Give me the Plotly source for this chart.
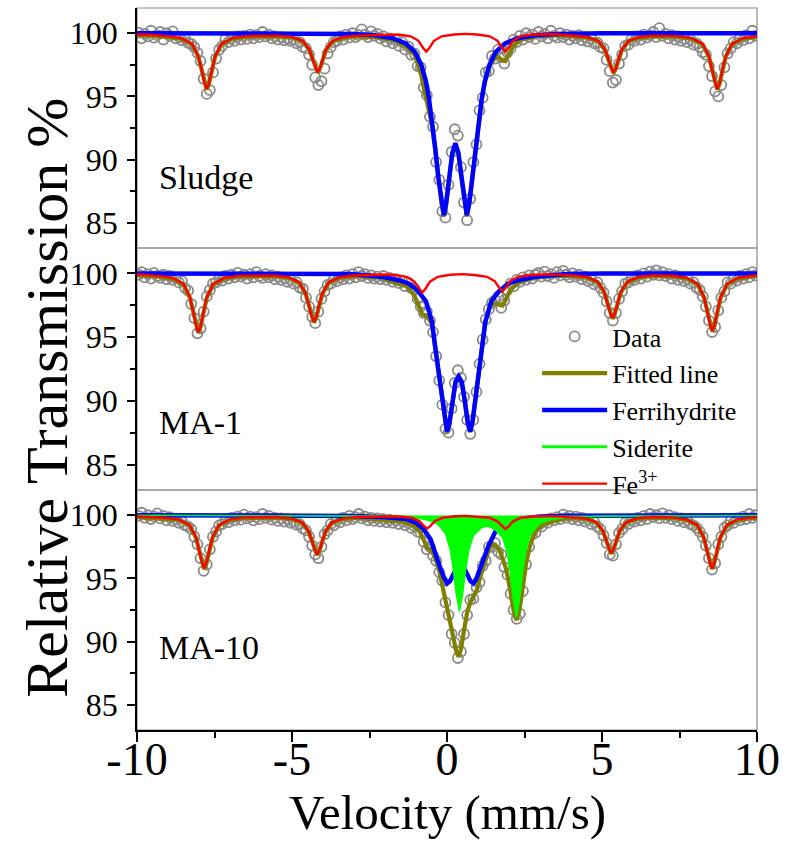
import numpy as np
import plotly.graph_objects as go

SERIF = "Liberation Serif, Times New Roman, serif"

# ---------------- data (velocity channels, mm/s) ----------------
velocity = np.round(np.linspace(-9.95, 9.95, 200), 2)

sludge_data = [
    100.05, 99.6, 99.95, 99.75, 100.2, 99.65, 99.85, 100.1, 99.5, 100.0,
    99.8, 100.15, 99.6, 99.7, 99.45, 99.6, 99.25, 99.15, 98.9, 98.45,
    97.8, 96.4, 95.2, 95.5, 96.9, 98.0, 98.7, 99.0, 99.5, 99.3,
    99.6, 99.4, 99.75, 99.5, 99.8, 99.55, 99.9, 99.6, 99.85, 99.7,
    100.1, 99.75, 99.9, 99.6, 99.75, 99.5, 99.7, 99.45, 99.6, 99.4,
    99.5, 99.2, 99.3, 98.9, 98.8, 98.3, 97.5, 96.5, 95.9, 96.2,
    97.2, 98.4, 98.9, 99.3, 99.4, 99.75, 99.5, 99.9, 99.65, 100.0,
    99.7, 99.85, 100.3, 99.9, 99.7, 100.15, 99.8, 99.95, 99.6, 99.75,
    99.35, 99.6, 99.2, 99.45, 99.0, 99.3, 98.7, 98.95, 98.3, 98.4,
    97.4, 97.3, 95.7, 95.1, 93.4, 92.6, 89.8, 88.4, 85.9, 85.4,
    88.0, 90.6, 92.4, 91.9, 89.4, 86.6, 85.2, 86.9, 89.8, 91.2,
    93.9, 94.9, 96.9, 97.0, 98.2, 98.0, 98.7, 98.1, 97.6, 98.5,
    98.8, 99.5, 99.3, 99.8, 99.5, 100.0, 99.7, 99.9, 99.55, 100.1,
    99.75, 99.95, 99.6, 100.2, 99.8, 99.65, 100.0, 99.7, 99.9, 99.5,
    99.8, 99.6, 99.85, 99.45, 99.7, 99.35, 99.55, 99.2, 99.25, 98.9,
    98.8, 97.9, 97.0, 96.1, 96.3, 97.6, 98.3, 99.0, 99.1, 99.5,
    99.4, 99.75, 99.5, 99.9, 99.65, 99.85, 100.1, 99.7, 100.4, 99.8,
    99.95, 99.6, 99.85, 99.5, 99.75, 99.4, 99.55, 99.3, 99.5, 99.1,
    99.2, 98.9, 98.5, 98.3, 97.4, 96.6, 95.4, 95.0, 95.9, 97.3,
    98.4, 98.8, 99.3, 99.2, 99.6, 99.45, 99.85, 99.6, 100.2, 99.8]

ma1_data = [
    99.9, 100.1, 99.7, 99.95, 99.6, 100.05, 99.8, 99.65, 99.9, 99.55,
    99.8, 99.5, 99.65, 99.3, 99.4, 98.85, 98.65, 97.6, 96.5, 95.3,
    95.7, 97.0, 98.2, 98.7, 99.2, 99.3, 99.6, 99.45, 99.8, 99.6,
    99.9, 99.7, 100.05, 99.75, 99.9, 99.6, 99.95, 99.7, 100.1, 99.8,
    99.65, 99.95, 99.7, 99.85, 99.55, 99.75, 99.5, 99.65, 99.35, 99.5,
    99.2, 99.3, 98.9, 98.8, 98.1, 97.4, 96.6, 96.1, 97.0, 98.0,
    98.6, 99.1, 99.2, 99.55, 99.4, 99.7, 99.55, 99.85, 99.6, 99.95,
    99.7, 100.1, 99.8, 99.95, 99.65, 99.85, 99.6, 99.75, 99.55, 99.8,
    99.5, 99.65, 99.35, 99.55, 99.25, 99.4, 99.0, 99.3, 98.85, 98.8,
    98.0, 97.4, 96.9, 97.0, 96.3, 95.4, 93.5, 91.6, 89.7, 87.8,
    87.5, 89.4, 91.4, 92.4, 91.8, 90.3, 88.5, 87.4, 88.5, 90.7,
    92.9, 94.8, 96.4, 97.2, 97.7, 97.9, 98.2, 97.3, 97.9, 98.7,
    99.2, 99.0, 99.5, 99.35, 99.7, 99.5, 99.85, 99.6, 99.9, 100.05,
    99.75, 100.15, 99.8, 99.95, 99.65, 100.1, 99.85, 100.2, 99.9, 99.7,
    100.0, 99.75, 99.9, 99.55, 99.75, 99.4, 99.5, 99.15, 99.3, 98.85,
    98.5, 97.8, 96.9, 96.3, 96.9, 98.0, 98.6, 99.2, 99.3, 99.6,
    99.5, 99.85, 99.6, 100.0, 99.75, 100.15, 99.9, 100.25, 99.85, 100.1,
    99.8, 99.95, 99.6, 99.85, 99.5, 99.7, 99.4, 99.55, 99.2, 99.3,
    98.9, 98.7, 98.2, 97.4, 96.3, 95.4, 95.8, 97.1, 98.1, 98.6,
    99.3, 99.2, 99.6, 99.45, 99.8, 99.6, 99.95, 99.7, 100.1, 99.85]

ma10_data = [
    99.95, 100.2, 99.8, 100.0, 99.7, 99.9, 100.15, 99.75, 99.95, 99.6,
    99.85, 99.55, 99.7, 99.4, 99.5, 99.2, 99.1, 98.9, 98.3, 97.7,
    96.6, 95.6, 96.1, 97.3, 98.3, 98.7, 99.2, 99.3, 99.6, 99.45,
    99.8, 99.6, 99.9, 99.65, 100.05, 99.75, 99.9, 99.6, 99.85, 99.7,
    100.1, 99.8, 99.95, 99.65, 99.8, 99.55, 99.75, 99.5, 99.7, 99.4,
    99.5, 99.25, 99.3, 98.95, 98.8, 98.3, 97.6, 96.9, 96.6, 97.5,
    98.5, 98.8, 99.3, 99.2, 99.6, 99.45, 99.8, 99.6, 99.95, 99.7,
    99.85, 100.1, 99.75, 99.9, 99.6, 99.8, 99.55, 99.75, 99.5, 99.7,
    99.45, 99.65, 99.4, 99.6, 99.3, 99.55, 99.2, 99.4, 99.0, 99.15,
    98.7, 98.6, 97.9, 97.3, 97.5, 96.8, 96.4, 95.5, 94.8, 93.1,
    92.1, 90.6, 89.9, 88.7, 89.2, 90.6, 92.1, 93.3, 93.4, 94.3,
    94.7, 96.0, 96.4, 97.5, 97.5, 97.8, 97.1, 96.9, 95.9, 95.3,
    93.8, 92.5, 91.8, 92.2, 94.0, 96.1, 97.5, 98.5, 98.6, 99.2,
    99.1, 99.5, 99.4, 99.75, 99.6, 99.85, 99.7, 100.05, 99.8, 99.95,
    99.7, 99.9, 99.6, 99.8, 99.5, 99.65, 99.3, 99.45, 99.1, 98.9,
    98.4, 97.8, 96.9, 96.8, 97.7, 98.6, 98.9, 99.4, 99.3, 99.6,
    99.5, 99.8, 99.6, 99.95, 99.7, 100.1, 99.85, 100.0, 99.75, 100.15,
    99.8, 100.0, 99.7, 99.85, 99.55, 99.75, 99.45, 99.6, 99.3, 99.2,
    99.0, 98.7, 98.3, 97.6, 96.6, 95.7, 96.2, 97.7, 98.3, 99.0,
    99.2, 99.55, 99.4, 99.75, 99.6, 99.9, 99.7, 100.1, 99.8, 100.0]

# ---------------- fitted components: Sludge ----------------
sludge_fe3_v = [-10, -9.6, -9.05, -8.58, -8.23, -8.02, -7.92, -7.82, -7.75, -7.68, -7.58, -7.48, -7.27, -6.92, -6.45,
                -5.47, -5.0, -4.65, -4.44, -4.34, -4.24, -4.17, -4.10, -4.0, -3.9, -3.69, -3.34, -2.87, -2.0,
                -1.57, -1.17, -0.92, -0.77, -0.67, -0.57, -0.42, -0.17, 0.23, 0.6, 0.98, 1.38, 1.63, 1.78, 1.88,
                1.98, 2.13, 2.38, 2.78, 3.5, 4.07, 4.54, 4.89, 5.10, 5.20, 5.30, 5.37, 5.44, 5.54, 5.64, 5.85,
                6.2, 6.67, 7.42, 7.89, 8.24, 8.45, 8.55, 8.65, 8.72, 8.79, 8.89, 8.99, 9.2, 9.55, 10]
sludge_fe3_t = [99.9, 99.88, 99.77, 99.62, 99.17, 98.18, 97.19, 96.03, 95.6, 96.03, 97.19, 98.18, 99.17, 99.62, 99.77,
                99.81, 99.71, 99.4, 98.72, 98.04, 97.25, 96.95, 97.25, 98.04, 98.72, 99.4, 99.71, 99.81, 99.9,
                99.9, 99.76, 99.4, 98.84, 98.55, 98.84, 99.4, 99.76, 99.9, 99.95, 99.9, 99.76, 99.4, 98.84, 98.55,
                98.84, 99.4, 99.76, 99.9, 99.92, 99.81, 99.7, 99.39, 98.7, 98.01, 97.2, 96.9, 97.2, 98.01, 98.7, 99.39,
                99.7, 99.81, 99.77, 99.62, 99.17, 98.18, 97.19, 96.03, 95.6, 96.03, 97.19, 98.18, 99.17, 99.62, 99.75]

sludge_ferri_v = [-10, -4.5, -3.03, -2.33, -1.73, -1.33, -1.03, -0.83, -0.68, -0.58, -0.48, -0.38, -0.28, -0.18,
                  -0.1, -0.03, 0.07, 0.17, 0.27, 0.37, 0.47, 0.57, 0.64, 0.72, 0.82, 0.92, 1.02, 1.12, 1.22, 1.37,
                  1.57, 1.87, 2.27, 2.87, 3.57, 5.0, 10]
sludge_ferri_t = [100, 100, 99.95, 99.85, 99.6, 99.2, 98.5, 97.5, 96.2, 94.8, 93.0, 90.9, 88.6, 86.6,
                  85.6, 86.5, 88.6, 90.5, 91.3, 90.5, 88.6, 86.5, 85.6, 86.6, 88.6, 90.9, 93.0, 94.8, 96.2, 97.5,
                  98.5, 99.2, 99.6, 99.85, 99.95, 100, 100]

sludge_fit_v = [-10, -9.6, -9.05, -8.58, -8.23, -8.02, -7.92, -7.82, -7.75, -7.68, -7.58, -7.48, -7.27, -6.92, -6.45,
                -5.47, -5.0, -4.65, -4.44, -4.34, -4.24, -4.17, -4.10, -4.0, -3.9, -3.69, -3.34, -3.03, -2.33,
                -1.73, -1.33, -1.03, -0.92, -0.83, -0.77, -0.67, -0.57, -0.48, -0.38, -0.28, -0.18, -0.1, -0.03,
                0.07, 0.17, 0.27, 0.37, 0.47, 0.57, 0.64, 0.72, 0.82, 0.92, 1.02, 1.12, 1.22, 1.37, 1.57, 1.63,
                1.78, 1.88, 1.98, 2.13, 2.38, 2.87, 3.57, 4.07, 4.54, 4.89, 5.10, 5.20, 5.30, 5.37, 5.44, 5.54,
                5.64, 5.85, 6.2, 6.67, 7.42, 7.89, 8.24, 8.45, 8.55, 8.65, 8.72, 8.79, 8.89, 8.99, 9.2, 9.55, 10]
sludge_fit_t = [99.85, 99.83, 99.72, 99.57, 99.12, 98.13, 97.14, 95.98, 95.55, 95.98, 97.14, 98.13, 99.12, 99.57, 99.72,
                99.76, 99.66, 99.35, 98.67, 97.99, 97.2, 96.9, 97.2, 97.99, 98.67, 99.35, 99.64, 99.75, 99.7,
                99.45, 98.95, 98.25, 97.45, 96.7, 95.9, 94.7, 93.5, 92.7, 90.8, 88.5, 86.5, 85.5, 86.4,
                88.5, 90.4, 91.2, 90.4, 88.5, 86.4, 85.5, 86.5, 88.5, 90.8, 92.9, 94.7, 96.1, 97.35, 98.2, 98.1,
                97.9, 97.8, 98.25, 98.95, 99.5, 99.75, 99.85, 99.76, 99.65, 99.34, 98.65, 97.96, 97.15, 96.85, 97.15, 97.96,
                98.65, 99.34, 99.65, 99.76, 99.72, 99.57, 99.12, 98.13, 97.14, 95.98, 95.55, 95.98, 97.14, 98.13, 99.12, 99.57, 99.7]

# ---------------- fitted components: MA-1 ----------------
ma1_fe3_v = [-10, -9.32, -8.85, -8.5, -8.29, -8.19, -8.09, -8.02, -7.95, -7.85, -7.75, -7.54, -7.19, -6.72,
             -5.59, -5.12, -4.77, -4.56, -4.46, -4.36, -4.29, -4.22, -4.12, -4.02, -3.81, -3.46, -2.99, -2.0,
             -1.7, -1.3, -1.05, -0.9, -0.8, -0.7, -0.55, -0.3, 0.1, 0.5, 0.89, 1.29, 1.54, 1.69, 1.79, 1.89,
             2.04, 2.29, 2.69, 3.3, 4.04, 4.51, 4.86, 5.07, 5.17, 5.27, 5.34, 5.41, 5.51, 5.61, 5.82, 6.17, 6.64,
             7.26, 7.73, 8.08, 8.29, 8.39, 8.49, 8.56, 8.63, 8.73, 8.83, 9.04, 9.39, 9.86, 10]
ma1_fe3_t = [99.92, 99.81, 99.65, 99.18, 98.13, 97.08, 95.85, 95.4, 95.85, 97.08, 98.13, 99.18, 99.65, 99.81,
             99.84, 99.71, 99.31, 98.45, 97.59, 96.57, 96.2, 96.57, 97.59, 98.45, 99.31, 99.71, 99.84, 99.92,
             99.88, 99.74, 99.36, 98.78, 98.5, 98.78, 99.36, 99.74, 99.9, 99.95, 99.88, 99.74, 99.4, 98.86, 98.6, 98.86,
             99.4, 99.74, 99.88, 99.93, 99.85, 99.73, 99.36, 98.57, 97.78, 96.84, 96.5, 96.84, 97.78, 98.57, 99.36, 99.73, 99.85,
             99.82, 99.66, 99.19, 98.17, 97.15, 95.95, 95.5, 95.95, 97.15, 98.17, 99.19, 99.66, 99.82, 99.84]

ma1_ferri_v = [-10, -4.5, -3.125, -2.125, -1.525, -1.225, -0.925, -0.675, -0.485, -0.34, -0.255, -0.18, -0.075,
               0.0, 0.075, 0.175, 0.275, 0.375, 0.475, 0.575, 0.675, 0.75, 0.825, 0.93, 1.005, 1.09, 1.235,
               1.425, 1.675, 1.975, 2.275, 2.875, 3.875, 5.0, 10]
ma1_ferri_t = [100, 100, 99.95, 99.75, 99.45, 99.2, 98.6, 97.8, 96.2, 93.5, 91.9, 90.4, 88.4,
               87.6, 88.2, 90.0, 91.5, 91.9, 91.5, 90.0, 88.2, 87.6, 88.4, 90.4, 91.9, 93.5, 96.2,
               97.8, 98.6, 99.2, 99.45, 99.75, 99.95, 100, 100]

ma1_fit_v = [-10, -9.32, -8.85, -8.5, -8.29, -8.19, -8.09, -8.02, -7.95, -7.85, -7.75, -7.54, -7.19, -6.72,
             -5.59, -5.12, -4.77, -4.56, -4.46, -4.36, -4.29, -4.22, -4.12, -4.02, -3.81, -3.46, -2.99, -2.125,
             -1.7, -1.3, -1.05, -0.9, -0.8, -0.7, -0.55, -0.485, -0.34, -0.255, -0.18, -0.075, 0.0, 0.075, 0.175,
             0.275, 0.375, 0.475, 0.575, 0.675, 0.75, 0.825, 0.93, 1.005, 1.09, 1.235, 1.425, 1.54, 1.69, 1.79,
             1.89, 2.04, 2.29, 2.69, 3.3, 4.04, 4.51, 4.86, 5.07, 5.17, 5.27, 5.34, 5.41, 5.51, 5.61, 5.82, 6.17,
             6.64, 7.26, 7.73, 8.08, 8.29, 8.39, 8.49, 8.56, 8.63, 8.73, 8.83, 9.04, 9.39, 9.86, 10]
ma1_fit_t = [99.87, 99.76, 99.6, 99.13, 98.08, 97.03, 95.8, 95.35, 95.8, 97.03, 98.08, 99.13, 99.6, 99.76,
             99.79, 99.66, 99.26, 98.4, 97.54, 96.52, 96.15, 96.52, 97.54, 98.4, 99.26, 99.66, 99.79, 99.67,
             99.3, 99.0, 98.26, 97.38, 96.8, 96.73, 96.31, 96.0, 93.4, 91.8, 90.3, 88.3, 87.5, 88.15, 89.95,
             91.45, 91.85, 91.45, 89.95, 88.15, 87.55, 88.35, 90.35, 91.85, 93.45, 96.15, 97.7, 97.62, 97.54, 97.48,
             97.94, 98.7, 99.25, 99.6, 99.8, 99.8, 99.68, 99.31, 98.52, 97.73, 96.79, 96.45, 96.79, 97.73, 98.52, 99.31, 99.68,
             99.8, 99.77, 99.61, 99.14, 98.12, 97.1, 95.9, 95.45, 95.9, 97.1, 98.12, 99.14, 99.61, 99.77, 99.79]

# ---------------- fitted components: MA-10 ----------------
ma10_fe3_v = [-10, -9.13, -8.66, -8.31, -8.1, -8.0, -7.9, -7.83, -7.76, -7.66, -7.56, -7.35, -7.0, -6.53,
              -5.49, -5.02, -4.67, -4.46, -4.36, -4.26, -4.19, -4.12, -4.02, -3.92, -3.71, -3.36, -2.89, -2.0,
              -1.54, -1.14, -0.89, -0.74, -0.64, -0.54, -0.39, -0.14, 0.26, 0.6, 0.98, 1.38, 1.63, 1.78, 1.88,
              1.98, 2.13, 2.38, 2.78, 3.4, 4.0, 4.47, 4.82, 5.03, 5.13, 5.23, 5.30, 5.37, 5.47, 5.57, 5.78, 6.13,
              6.6, 7.25, 7.72, 8.07, 8.28, 8.38, 8.48, 8.55, 8.62, 8.72, 8.82, 9.03, 9.38, 9.85, 10]
ma10_fe3_t = [99.9, 99.8, 99.68, 99.24, 98.29, 97.34, 96.22, 95.8, 96.22, 97.34, 98.29, 99.24, 99.68, 99.83,
              99.86, 99.75, 99.43, 98.73, 98.03, 97.2, 96.9, 97.2, 98.03, 98.73, 99.43, 99.75, 99.86, 99.92,
              99.9, 99.8, 99.54, 99.14, 98.95, 99.14, 99.54, 99.8, 99.92, 99.95, 99.9, 99.8, 99.52, 99.1, 98.9,
              99.1, 99.52, 99.8, 99.9, 99.93, 99.86, 99.76, 99.45, 98.77, 98.09, 97.3, 97.0, 97.3, 98.09, 98.77, 99.45, 99.76,
              99.86, 99.83, 99.68, 99.24, 98.29, 97.34, 96.22, 95.8, 96.22, 97.34, 98.29, 99.24, 99.68, 99.83, 99.84]

ma10_ferri_v = [-10, -4, -3.0, -2.0, -1.3, -1.0, -0.75, -0.53, -0.4, -0.3, -0.2, -0.1, 0.0, 0.1, 0.19, 0.3,
                0.425, 0.55, 0.66, 0.75, 0.85, 0.95, 1.07, 1.2, 1.34, 1.6, 1.9, 2.3, 3.0, 4.0, 10]
ma10_ferri_t = [100, 99.98, 99.95, 99.85, 99.7, 99.4, 98.9, 98.1, 97.1, 96.3, 95.7, 95.1, 94.6, 94.8, 95.3, 95.8,
                96.0, 95.8, 95.3, 94.8, 94.6, 95.0, 95.8, 96.8, 97.6, 98.9, 99.4, 99.7, 99.9, 99.97, 100]

ma10_sid_v = [-10, -4, -2.5, -1.5, -1.0, -0.6, -0.3, -0.05, 0.1, 0.2, 0.3, 0.4, 0.5, 0.6, 0.7, 0.85, 1.1, 1.3,
              1.54, 1.79, 1.94, 2.04, 2.14, 2.24, 2.34, 2.44, 2.54, 2.69, 2.94, 3.24, 3.74, 5.0, 10]
ma10_sid_t = [100, 99.98, 99.92, 99.85, 99.8, 99.6, 99.3, 98.55, 97.35, 95.8, 93.75, 92.4, 93.7, 95.7, 97.2, 98.4,
              99.0, 99.15, 98.9, 98.25, 97.1, 95.5, 93.3, 91.95, 93.35, 95.55, 97.15, 98.45, 99.25, 99.6, 99.8, 99.93, 99.98]

ma10_fit_v = [-10, -9.13, -8.66, -8.31, -8.1, -8.0, -7.9, -7.83, -7.76, -7.66, -7.56, -7.35, -7.0, -6.53,
              -5.49, -5.02, -4.67, -4.46, -4.36, -4.26, -4.19, -4.12, -4.02, -3.92, -3.71, -3.36, -2.89, -2.0,
              -1.5, -1.14, -0.89, -0.74, -0.64, -0.54, -0.39, -0.25, -0.1, 0.0, 0.1, 0.2, 0.3, 0.37, 0.45, 0.55,
              0.65, 0.75, 0.85, 0.95, 1.05, 1.15, 1.25, 1.35, 1.46, 1.58, 1.7, 1.8, 1.9, 2.0, 2.08, 2.16, 2.24,
              2.32, 2.4, 2.48, 2.56, 2.68, 2.84, 3.1, 3.6, 4.0, 4.47, 4.82, 5.03, 5.13, 5.23, 5.30, 5.37, 5.47,
              5.57, 5.78, 6.13, 6.6, 7.25, 7.72, 8.07, 8.28, 8.38, 8.48, 8.55, 8.62, 8.72, 8.82, 9.03, 9.38, 9.85, 10]
ma10_fit_t = [99.85, 99.75, 99.63, 99.19, 98.24, 97.29, 96.17, 95.75, 96.17, 97.29, 98.24, 99.19, 99.63, 99.78,
              99.81, 99.7, 99.38, 98.68, 97.98, 97.15, 96.85, 97.15, 97.98, 98.68, 99.38, 99.7, 99.8, 99.65,
              99.5, 99.25, 98.75, 98.0, 97.4, 97.3, 96.7, 95.6, 93.9, 92.5, 91.3, 90.2, 89.2, 88.8, 89.4, 90.9,
              92.3, 93.1, 93.5, 94.0, 94.9, 95.8, 96.6, 97.3, 97.7, 97.6, 97.2, 96.6, 95.8, 94.6, 93.4, 92.3, 91.7,
              92.3, 93.5, 95.0, 96.3, 97.6, 98.7, 99.3, 99.65, 99.78, 99.71, 99.4, 98.72, 98.04, 97.25, 96.95, 97.25, 98.04,
              98.72, 99.4, 99.71, 99.81, 99.78, 99.63, 99.19, 98.24, 97.29, 96.17, 95.75, 96.17, 97.29, 98.24, 99.19, 99.63, 99.78, 99.79]

panel_labels = ["Sludge", "MA-1", "MA-10"]
y_ticks = [85, 90, 95, 100]
x_ticks = [-10, -5, 0, 5, 10]
x_ticktext = ["-10", "-5", "0", "5", "10"]

for a, b in [(sludge_fe3_v, sludge_fe3_t), (sludge_ferri_v, sludge_ferri_t), (sludge_fit_v, sludge_fit_t),
             (ma1_fe3_v, ma1_fe3_t), (ma1_ferri_v, ma1_ferri_t), (ma1_fit_v, ma1_fit_t),
             (ma10_fe3_v, ma10_fe3_t), (ma10_ferri_v, ma10_ferri_t), (ma10_sid_v, ma10_sid_t),
             (ma10_fit_v, ma10_fit_t)]:
    assert len(a) == len(b), (len(a), len(b), a[:3])
for d in (sludge_data, ma1_data, ma10_data):
    assert len(d) == 200, len(d)

# ---------------- styles ----------------
DATA_GRAY = "#8a8a8a"
OLIVE = "#808000"
BLUE = "#0000FF"
GREEN = "#00FF00"
RED = "#FF0000"

panels = [
    dict(data=sludge_data, fit=(sludge_fit_v, sludge_fit_t), ferri=(sludge_ferri_v, sludge_ferri_t),
         sid=None, fe3=(sludge_fe3_v, sludge_fe3_t), xa="x3", ya="y3"),
    dict(data=ma1_data, fit=(ma1_fit_v, ma1_fit_t), ferri=(ma1_ferri_v, ma1_ferri_t),
         sid=None, fe3=(ma1_fe3_v, ma1_fe3_t), xa="x2", ya="y2"),
    dict(data=ma10_data, fit=(ma10_fit_v, ma10_fit_t), ferri=(ma10_ferri_v, ma10_ferri_t),
         sid=(ma10_sid_v, ma10_sid_t), fe3=(ma10_fe3_v, ma10_fe3_t), xa="x", ya="y"),
]

fig = go.Figure()
for k, p in enumerate(panels):
    first = (k == 0)
    fig.add_trace(go.Scatter(x=velocity, y=p["data"], mode="markers", name="Data",
                             marker=dict(symbol="circle-open", size=10, color=DATA_GRAY, line=dict(width=1.8)),
                             showlegend=first, legendrank=1, xaxis=p["xa"], yaxis=p["ya"]))
    fig.add_trace(go.Scatter(x=p["fit"][0], y=p["fit"][1], mode="lines", name="Fitted line",
                             line=dict(color=OLIVE, width=4.2), showlegend=first, legendrank=2,
                             xaxis=p["xa"], yaxis=p["ya"]))
    fig.add_trace(go.Scatter(x=p["ferri"][0], y=p["ferri"][1], mode="lines", name="Ferrihydrite",
                             line=dict(color=BLUE, width=4.5), showlegend=first, legendrank=3,
                             xaxis=p["xa"], yaxis=p["ya"]))
    if p["sid"] is not None:
        fig.add_trace(go.Scatter(x=p["sid"][0], y=p["sid"][1], mode="lines", name="Siderite",
                                 fill="toself", fillcolor=GREEN, line=dict(color=GREEN, width=1.5),
                                 showlegend=False, xaxis=p["xa"], yaxis=p["ya"]))
    fig.add_trace(go.Scatter(x=p["fe3"][0], y=p["fe3"][1], mode="lines", name="Fe<sup>3+</sup>",
                             line=dict(color=RED, width=2.4), showlegend=first, legendrank=5,
                             xaxis=p["xa"], yaxis=p["ya"]))

# legend key for siderite (line style as in the original legend)
fig.add_trace(go.Scatter(x=[None], y=[None], mode="lines", name="Siderite",
                         line=dict(color=GREEN, width=3), showlegend=True, legendrank=4,
                         xaxis="x", yaxis="y"))

# ---------------- layout ----------------
W, H = 788, 843
ML, MR, MT, MB = 137, 25, 8, 113
plot_w = W - ML - MR
plot_h = H - MT - MB
b1 = 240 / plot_h
b2 = 482 / plot_h

yax = dict(range=[83, 102], tickvals=y_ticks, ticks="outside", ticklen=8, tickwidth=1.5, tickcolor="black",
           showline=True, linecolor="black", linewidth=1.5, showgrid=False, zeroline=False,
           minor=dict(tickvals=[87.5, 92.5, 97.5], ticks="outside", ticklen=5, tickwidth=1.5, tickcolor="black"),
           tickfont=dict(family=SERIF, size=32, color="black"), ticklabelstandoff=3)
xhidden = dict(range=[-10, 10], showticklabels=False, ticks="", showline=False, showgrid=False, zeroline=False)

fig.update_layout(
    width=W, height=H,
    margin=dict(l=ML, r=MR, t=MT, b=MB),
    font=dict(family=SERIF, color="black"),
    paper_bgcolor="white", plot_bgcolor="white",
    xaxis=dict(range=[-10, 10], tickvals=x_ticks, ticktext=x_ticktext, ticks="outside", ticklen=10,
               tickwidth=1.5, tickcolor="black", showline=True, linecolor="black", linewidth=1.5,
               showgrid=False, zeroline=False, anchor="y", ticklabelstandoff=-22,
               minor=dict(tickvals=[-7.5, -2.5, 2.5, 7.5], ticks="outside", ticklen=6, tickwidth=1.5,
                          tickcolor="black"),
               tickfont=dict(family=SERIF, size=46, color="black")),
    xaxis2=dict(xhidden, anchor="y2", matches="x"),
    xaxis3=dict(xhidden, anchor="y3", matches="x"),
    yaxis=dict(yax, domain=[0, b1], anchor="x"),
    yaxis2=dict(yax, domain=[b1, b2], anchor="x2"),
    yaxis3=dict(yax, domain=[b2, 1.0], anchor="x3"),
    showlegend=True,
    legend=dict(x=(541 - ML) / plot_w, xanchor="left", y=(730 - 313) / plot_h, yanchor="top",
                font=dict(family=SERIF, size=26, color="black"), bgcolor="rgba(0,0,0,0)",
                itemwidth=65, tracegroupgap=0, traceorder="normal"),
)

# thin grey frames around each panel
for xa, ya in [("x", "y"), ("x2", "y2"), ("x3", "y3")]:
    fig.add_shape(type="rect", xref=f"{xa} domain", yref=f"{ya} domain", x0=0, x1=1, y0=0, y1=1,
                  line=dict(color="#8c8c8c", width=1.2), layer="below")

# panel labels
label_y = [(730 - 177) / plot_h, (730 - 422) / plot_h, (730 - 647) / plot_h]
for txt, yy in zip(panel_labels, label_y):
    fig.add_annotation(text=txt, xref="paper", yref="paper", x=(157 - ML) / plot_w, y=yy,
                       xanchor="left", yanchor="middle", showarrow=False,
                       font=dict(family=SERIF, size=34, color="black"))

# axis titles
fig.add_annotation(text="Relative Transmission %", xref="paper", yref="paper",
                   x=(46 - ML) / plot_w, y=(730 - 398) / plot_h, xanchor="center", yanchor="middle",
                   textangle=-90, showarrow=False, font=dict(family=SERIF, size=60, color="black"))
fig.add_annotation(text="Velocity (mm/s)", xref="paper", yref="paper",
                   x=(451 - ML) / plot_w, y=(730 - 812) / plot_h, xanchor="center", yanchor="middle",
                   showarrow=False, font=dict(family=SERIF, size=49, color="black"))

fig.write_html("out.html")
